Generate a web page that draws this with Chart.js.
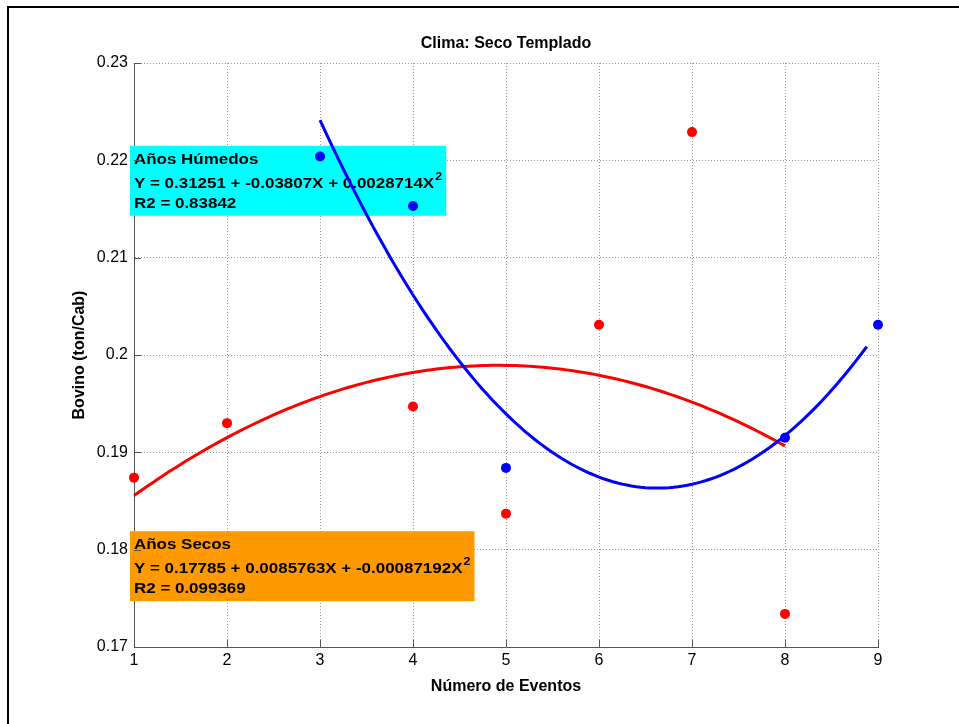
<!DOCTYPE html>
<html><head><meta charset="utf-8">
<script src="https://cdn.jsdelivr.net/npm/chart.js@4"></script>
<style>
html,body{margin:0;padding:0;background:#fff;}
#wrap{position:relative;width:959px;height:724px;overflow:hidden;background:#fff;}
#frame{position:absolute;left:7px;top:6px;right:-10px;bottom:-10px;border-top:2px solid #000;border-left:2px solid #000;pointer-events:none;}
canvas{position:absolute;left:0;top:0;}
</style></head><body>
<div id="wrap"><canvas id="c" width="959" height="724"></canvas><div id="frame"></div></div>
<script>
const chartTitle = 'Clima: Seco Templado';
const xAxisTitle = 'Número de Eventos';
const yAxisTitle = 'Bovino (ton/Cab)';
const xTicks = [1, 2, 3, 4, 5, 6, 7, 8, 9];
const yTicks = [0.17, 0.18, 0.19, 0.20, 0.21, 0.22, 0.23];
const yTickLabels = ['0.17', '0.18', '0.19', '0.2', '0.21', '0.22', '0.23'];

const secosX = [1, 2, 4, 5, 6, 7, 8];
const secosY = [0.1874, 0.1930, 0.1947, 0.1837, 0.2031, 0.2229, 0.1734];
const humedosX = [3, 4, 5, 8, 9];
const humedosY = [0.2204, 0.2153, 0.1884, 0.1915, 0.2031];

const secosCoef = [0.17785, 0.0085763, -0.00087192];
const humedosCoef = [0.31251, -0.03807, 0.0028714];
const secosRange = [1, 8];
const humedosRange = [3, 8.88];

const humedosLabel = ['Años Húmedos', 'Y = 0.31251 + -0.03807X + 0.0028714X', 'R2 = 0.83842'];
const secosLabel = ['Años Secos', 'Y = 0.17785 + 0.0085763X + -0.00087192X', 'R2 = 0.099369'];
const humedosLabelPos = [1, 0.2179];
const secosLabelPos = [1, 0.1783];

const FAM = '"Liberation Sans", Arial, Helvetica, sans-serif';

function fitCurve(c, r) {
  const pts = [];
  for (let x = r[0]; x < r[1]; x += 0.05) pts.push({x: x, y: c[0] + c[1] * x + c[2] * x * x});
  const e = r[1];
  pts.push({x: e, y: c[0] + c[1] * e + c[2] * e * e});
  return pts;
}
const toPts = (xs, ys) => xs.map((x, i) => ({x: x, y: ys[i]}));

function drawBox(chart, lines, pos, bg) {
  const ctx = chart.ctx, xs = chart.scales.x, ys = chart.scales.y;
  const px = xs.getPixelForValue(pos[0]), py = ys.getPixelForValue(pos[1]);
  const sx = 1.13;
  const mainFont = 'bold 15px ' + FAM, supFont = 'bold 11px ' + FAM;
  ctx.save();
  let w = 0;
  lines.forEach((t, i) => {
    ctx.font = mainFont;
    let m = ctx.measureText(t).width;
    if (i === 1) { ctx.font = supFont; m += ctx.measureText('2').width + 1; }
    w = Math.max(w, m);
  });
  const boxW = w * sx + 8, boxH = 70;
  const left = px - 4, top = py - boxH / 2;
  ctx.fillStyle = bg;
  ctx.fillRect(left, top, boxW, boxH);
  ctx.fillStyle = '#000';
  ctx.textAlign = 'left';
  ctx.textBaseline = 'alphabetic';
  const offs = [18, 42, 62];
  lines.forEach((t, i) => {
    ctx.save();
    ctx.translate(left + 4, top + offs[i]);
    ctx.scale(sx, 1);
    ctx.font = mainFont;
    ctx.fillText(t, 0, 0);
    if (i === 1) {
      const tw = ctx.measureText(t).width;
      ctx.font = supFont;
      ctx.fillText('2', tw + 1, -8);
    }
    ctx.restore();
  });
  ctx.restore();
}

const boxesPlugin = {
  id: 'boxes',
  beforeDatasetsDraw(chart) {
    drawBox(chart, humedosLabel, humedosLabelPos, '#00FFFF');
    drawBox(chart, secosLabel, secosLabelPos, '#FF9900');
  }
};
const ticksPlugin = {
  id: 'inTicks',
  afterDatasetsDraw(chart) {
    const ctx = chart.ctx, a = chart.chartArea, x = chart.scales.x, y = chart.scales.y;
    ctx.save();
    ctx.strokeStyle = '#555';
    ctx.lineWidth = 1;
    ctx.beginPath();
    x.ticks.forEach(t => { const p = Math.round(x.getPixelForValue(t.value)) + 0.5; ctx.moveTo(p, a.bottom); ctx.lineTo(p, a.bottom - 7); });
    y.ticks.forEach(t => { const p = Math.round(y.getPixelForValue(t.value)) + 0.5; ctx.moveTo(a.left, p); ctx.lineTo(a.left + 7, p); });
    ctx.stroke();
    ctx.restore();
  }
};
const titlePlugin = {
  id: 'ctitle',
  afterDraw(chart) {
    const ctx = chart.ctx, a = chart.chartArea;
    ctx.save();
    ctx.font = 'bold 16px ' + FAM;
    ctx.fillStyle = '#000';
    ctx.textAlign = 'center';
    ctx.textBaseline = 'middle';
    ctx.fillText(chartTitle, (a.left + a.right) / 2, a.top - 19);
    ctx.restore();
  }
};

new Chart(document.getElementById('c'), {
  type: 'scatter',
  data: {
    datasets: [
      {label: 'Húmedos', data: toPts(humedosX, humedosY), backgroundColor: '#0000FF', borderColor: '#0000FF', pointRadius: 5, pointBorderWidth: 0, showLine: false, clip: false},
      {label: 'Ajuste Húmedos', data: fitCurve(humedosCoef, humedosRange), borderColor: '#0000FF', borderWidth: 3, pointRadius: 0, showLine: true, fill: false, tension: 0, clip: false},
      {label: 'Secos', data: toPts(secosX, secosY), backgroundColor: '#FF0000', borderColor: '#FF0000', pointRadius: 5, pointBorderWidth: 0, showLine: false, clip: false},
      {label: 'Ajuste Secos', data: fitCurve(secosCoef, secosRange), borderColor: '#FF0000', borderWidth: 3, pointRadius: 0, showLine: true, fill: false, tension: 0, clip: false}
    ]
  },
  options: {
    responsive: false,
    animation: false,
    devicePixelRatio: 1,
    layout: {padding: {left: 0, right: 81, top: 63, bottom: 0}},
    plugins: {legend: {display: false}, tooltip: {enabled: false}, title: {display: false}},
    scales: {
      x: {
        type: 'linear', min: 1, max: 9,
        afterBuildTicks: s => { s.ticks = xTicks.map(v => ({value: v})); },
        afterFit: s => { s.height = 77; },
        grid: {color: c => c.index === 0 ? 'rgba(0,0,0,0)' : '#999', lineWidth: 1, drawTicks: false},
        border: {display: true, color: '#555', width: 1, dash: [1, 2]},
        ticks: {padding: 4, color: '#000', font: {family: FAM, size: 16}, maxRotation: 0, autoSkip: false, callback: v => String(v)},
        title: {display: true, text: xAxisTitle, color: '#000', font: {family: FAM, size: 16, weight: 'bold'}, padding: {top: 0, bottom: 28}}
      },
      y: {
        type: 'linear', min: 0.17, max: 0.23,
        afterBuildTicks: s => { s.ticks = yTicks.map(v => ({value: v})); },
        afterFit: s => { s.width = 134; },
        grid: {color: c => c.index === 0 ? 'rgba(0,0,0,0)' : '#999', lineWidth: 1, drawTicks: false},
        border: {display: true, color: '#555', width: 1, dash: [1, 2]},
        ticks: {padding: 6, color: '#000', font: {family: FAM, size: 16}, autoSkip: false, callback: (v, i) => yTickLabels[i]},
        title: {display: true, text: yAxisTitle, color: '#000', font: {family: FAM, size: 16, weight: 'bold'}, padding: {top: 70, bottom: 0}}
      }
    }
  },
  plugins: [boxesPlugin, ticksPlugin, titlePlugin]
});
</script>
</body></html>
